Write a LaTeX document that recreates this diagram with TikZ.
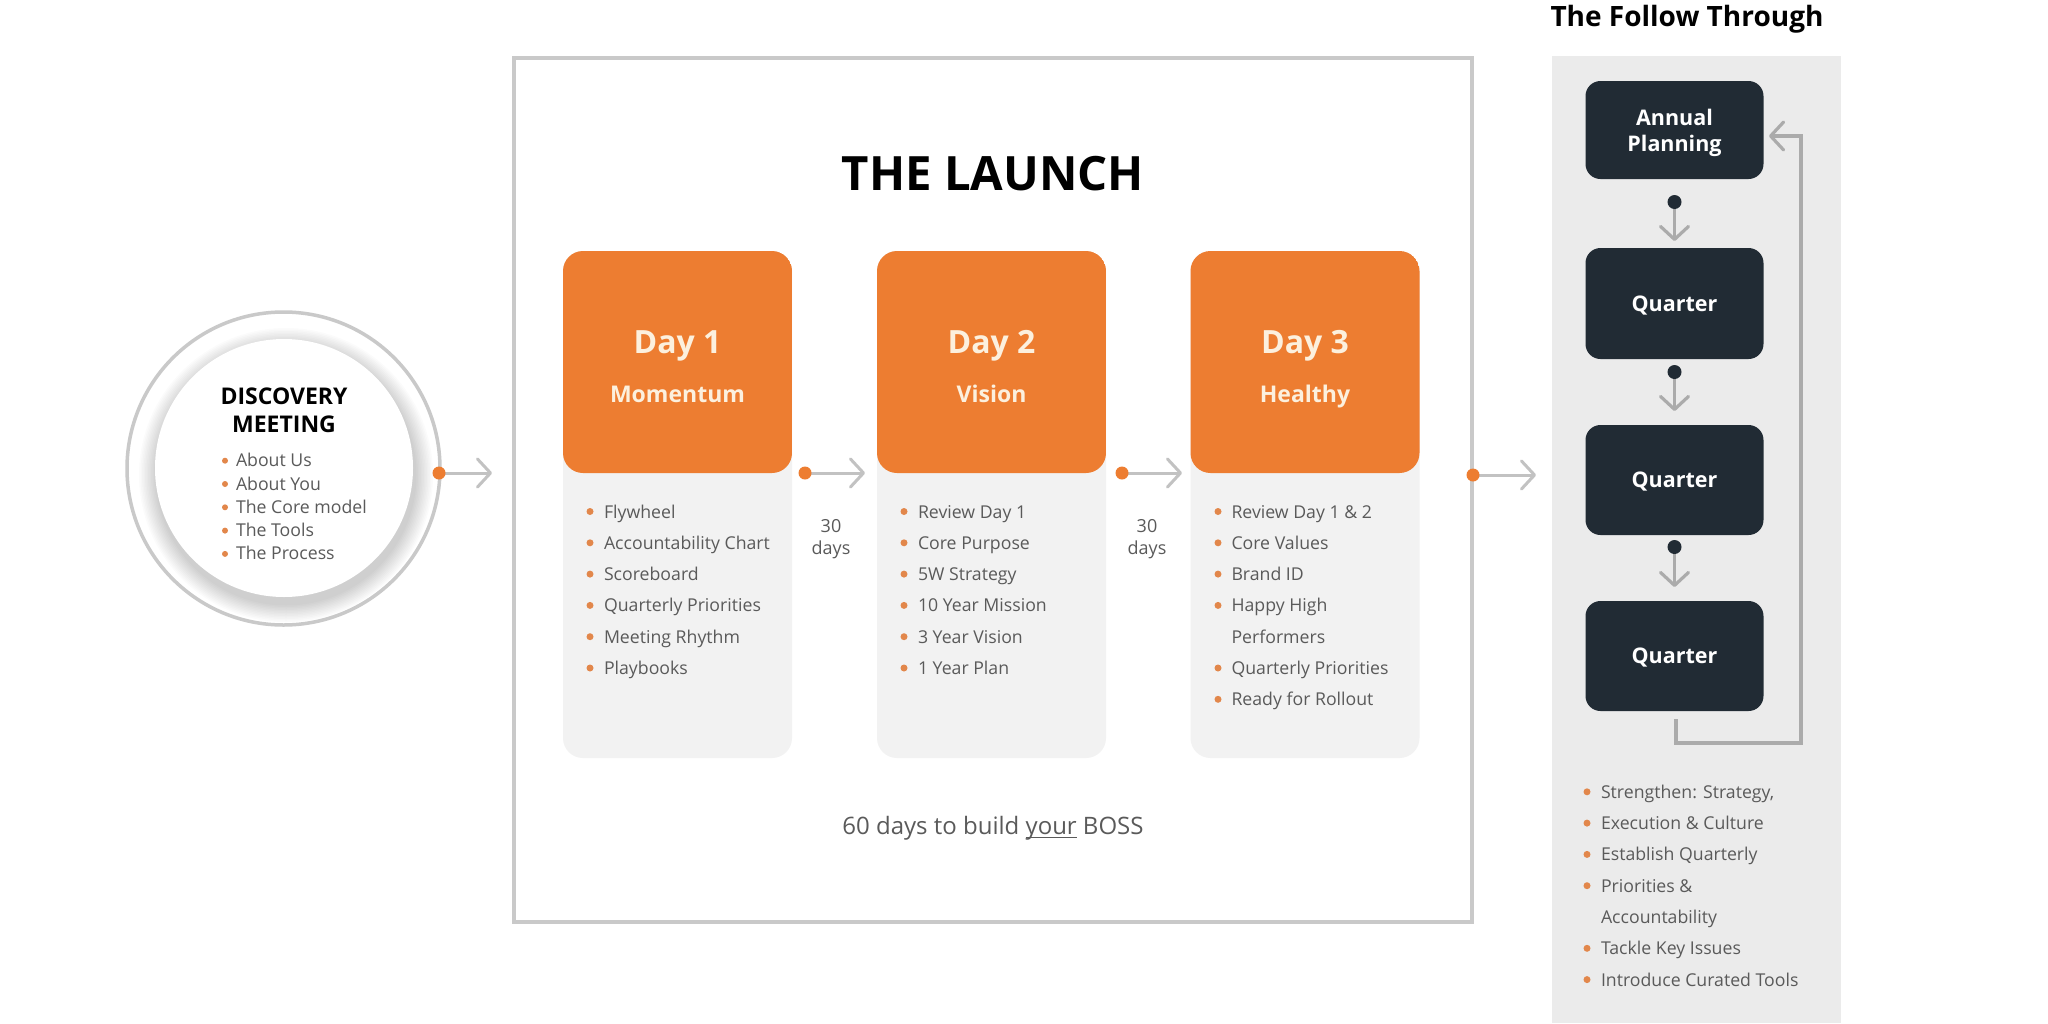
\documentclass[tikz,border=0pt]{standalone}
\usepackage{fontspec}
\setmainfont{Open Sans}
\usetikzlibrary{arrows.meta,calc}
\definecolor{orng}{HTML}{ED7D31}
\definecolor{cardgray}{HTML}{F2F2F2}
\definecolor{panelgray}{HTML}{EBEBEB}
\definecolor{boxgray}{HTML}{C9C9C9}
\definecolor{arrgray}{HTML}{C2C2C2}
\definecolor{parrgray}{HTML}{ABABAB}
\definecolor{navy}{HTML}{212B34}
\definecolor{txtgray}{HTML}{5A5A5A}
\definecolor{cream}{HTML}{FCF0DE}
\definecolor{bulorange}{HTML}{E2874B}
\newcommand\fs[2]{\fontsize{#1}{#2}\selectfont}
\newcommand\myul[1]{\setbox0\hbox{#1}\rlap{\rule[-3.6pt]{\wd0}{1.3pt}}\box0\relax}
\begin{document}
\begin{tikzpicture}[x=1pt,y=-1pt,
 every node/.style={inner sep=0pt,outer sep=0pt},
 card/.style={rectangle, minimum width=229pt, minimum height=507pt, rounded corners=20pt, fill=cardgray,
   path picture={\fill[orng] (path picture bounding box.north west) rectangle ([yshift=-222pt]path picture bounding box.north east);}},
 navybox/.style={rectangle, rounded corners=15pt, fill=navy, minimum width=178pt, text=white, font={\bfseries\fs{21.5}{26}}, text height=15.4pt, text depth=0pt},
 boxlabel/.style={anchor=base, text=white, font={\bfseries\fs{21.5}{26}}},
 item/.style={anchor=base west, font={\fs{17.7}{21}}, text=txtgray},
 bul/.style={fill=bulorange},
 garrow/.style={draw=arrgray, line width=3pt, -{Straight Barb[length=13pt,width=28pt,round]}},
 parrow/.style={draw=parrgray, line width=3.2pt, -{Straight Barb[length=13pt,width=28pt,round]}},
 daytitle/.style={anchor=base, text=cream, font={\bfseries\fs{32}{38}}},
 daysub/.style={anchor=base, text=cream, font={\bfseries\fs{23}{28}}},
 gaptext/.style={anchor=base, text=txtgray, font={\fs{18}{21}}},
]
\useasboundingbox (0,0) rectangle (2048,1023);
\fill[white] (0,0) rectangle (2048,1023);

% ---------- discovery circle ----------
\node[circle, draw=boxgray, line width=3.5pt, minimum size=313pt, fill=white] (disc) at (283.5,468.5) {};
\foreach \k in {1,...,12} \fill[black, opacity=0.014] (286,475) circle [radius={129pt+1.5pt*\k}];
\node[circle, fill=white, minimum size=258pt] (discin) at (284,468) {};
\node[anchor=base, font={\bfseries\fs{23}{28}}] (dt1) at (284,404.5) {DISCOVERY};
\node[anchor=base, font={\bfseries\fs{23}{28}}] (dt2) at (284,432) {MEETING};
\foreach \t [count=\i from 0] in {About Us, About You, The Core model, The Tools, The Process} {
  \node[item] (di\i) at (236,{466.7+23.3*\i}) {\t};
  \fill[bul] (225,{460.7+23.3*\i}) circle (3pt);
}

% ---------- the launch ----------
\node[draw=boxgray, line width=3.5pt, minimum width=958pt, minimum height=864pt] (launch) at (993,490) {};
\node[anchor=base, font={\bfseries\fs{47.3}{56}}] (title) at (993,190.5) {THE LAUNCH};

\node[card] (d1) at (677.5,504.5) {};
\node[card] (d2) at (991.5,504.5) {};
\node[card] (d3) at (1305,504.5) {};
\node[daytitle] (d1t) at (677.5,353) {Day 1};
\node[daytitle] (d2t) at (991.5,353) {Day 2};
\node[daytitle] (d3t) at (1305,353) {Day 3};
\node[daysub] (d1s) at (677.5,402) {Momentum};
\node[daysub] (d2s) at (991.5,402) {Vision};
\node[daysub] (d3s) at (1305,402) {Healthy};

\foreach \t [count=\i from 0] in {Flywheel, Accountability Chart, Scoreboard, Quarterly Priorities, Meeting Rhythm, Playbooks} {
  \node[item] (ia\i) at (604,{518+31.3*\i}) {\t};
  \fill[bul] (590,{511.5+31.3*\i}) circle (3.5pt);
}
\foreach \t [count=\i from 0] in {Review Day 1, Core Purpose, 5W Strategy, 10 Year Mission, 3 Year Vision, 1 Year Plan} {
  \node[item] (ib\i) at (918,{518+31.3*\i}) {\t};
  \fill[bul] (904,{511.5+31.3*\i}) circle (3.5pt);
}
\foreach \t/\b [count=\i from 0] in {Review Day 1 \& 2/1, Core Values/1, Brand ID/1, Happy High/1, Performers/0, Quarterly Priorities/1, Ready for Rollout/1} {
  \node[item] (ic\i) at (1231.5,{518+31.3*\i}) {\t};
  \ifnum\b=1 \fill[bul] (1218,{511.5+31.3*\i}) circle (3.5pt);\fi
}

\node[gaptext] (g1a) at (831,532.6) {30};
\node[gaptext] (g1b) at (831,554) {days};
\node[gaptext] (g2a) at (1147,532.6) {30};
\node[gaptext] (g2b) at (1147,554) {days};

\node[anchor=base, font={\fs{24}{28}}, text=txtgray] (boss) at (993,834.4) {60 days to build \myul{your} BOSS};

% ---------- arrows ----------
\coordinate (a0s) at (439,473); \coordinate (a0e) at (492,473);
\coordinate (a1s) at (805,473); \coordinate (a1e) at (865,473);
\coordinate (a2s) at (1122,473); \coordinate (a2e) at (1182,473);
\coordinate (a3s) at (1473,475); \coordinate (a3e) at (1536,475);
\foreach \n in {0,1,2,3} {
  \draw[garrow] (a\n s) -- (a\n e);
  \fill[orng] (a\n s) circle (6.5pt);
}

% ---------- follow through ----------
\node[fill=panelgray, minimum width=289pt, minimum height=967pt] (panel) at (1696.5,539.5) {};
\node[anchor=base, font={\bfseries\fs{28}{34}}] (ft) at (1687,26) {The Follow Through};

\node[navybox, minimum height=98pt] (ap) at (1674.5,130) {};
\node[boxlabel] (apt1) at (1674.5,125) {Annual};
\node[boxlabel] (apt2) at (1674.5,151) {Planning};
\node[navybox, minimum height=111pt] (q1) at (1674.5,303.5) {Quarter};
\node[navybox, minimum height=110pt] (q2) at (1674.5,480) {Quarter};
\node[navybox, minimum height=110pt] (q3) at (1674.5,656) {Quarter};

\coordinate (c1s) at (1674.5,202); \coordinate (c1e) at (1674.5,241);
\coordinate (c2s) at (1674.5,372); \coordinate (c2e) at (1674.5,411);
\coordinate (c3s) at (1674.5,547); \coordinate (c3e) at (1674.5,587);
\foreach \n in {1,2,3} {
  \draw[parrow] (c\n s) -- (c\n e);
  \fill[navy] (c\n s) circle (7pt);
}
\coordinate (l0) at (1676,719); \coordinate (l1) at (1769,136);
\draw[parrow] (l0) -- (1676,743) -- (1801,743) -- (1801,136) -- (l1);

\foreach \t/\b [count=\i from 0] in {{Strengthen: Strategy,}/1, Execution \& Culture/1, Establish Quarterly/1, Priorities \&/1, Accountability/0, Tackle Key Issues/1, Introduce Curated Tools/1} {
  \node[item] (ip\i) at (1601,{798.3+31.3*\i}) {\t};
  \ifnum\b=1 \fill[bul] (1587,{791.8+31.3*\i}) circle (3.5pt);\fi
}
\end{tikzpicture}
\end{document}
